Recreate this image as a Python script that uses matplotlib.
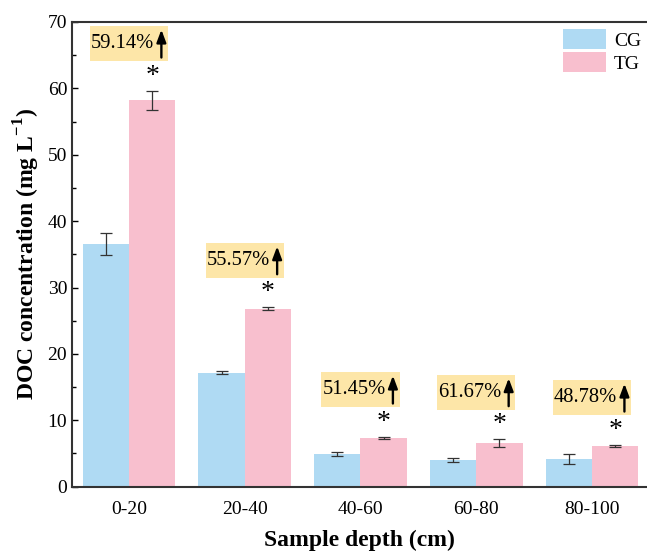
import numpy as np
import matplotlib
matplotlib.use('Agg')
import matplotlib.pyplot as plt
from matplotlib.ticker import MultipleLocator
from matplotlib.patches import Rectangle

plt.rcParams['font.family'] = ['Liberation Serif', 'DejaVu Serif']
plt.rcParams['mathtext.fontset'] = 'custom'
plt.rcParams['mathtext.rm'] = 'Liberation Serif'
plt.rcParams['mathtext.bf'] = 'Liberation Serif:bold'

" DATA "
depths = ['0-20', '20-40', '40-60', '60-80', '80-100']

cg_mean = np.array([36.6, 17.2, 4.87, 4.07, 4.17])
cg_err = np.array([1.65, 0.25, 0.3, 0.3, 0.75])

tg_mean = np.array([58.2, 26.8, 7.33, 6.58, 6.17])
tg_err = np.array([1.45, 0.2, 0.2, 0.55, 0.15])

increase = ['59.14%', '55.57%', '51.45%', '61.67%', '48.78%']

" PLOT "
fig = plt.figure(figsize=(6.47, 5.54), dpi=100)
ax = fig.add_axes([0.1113, 0.1215, 0.8887, 0.8388])

x = np.arange(len(depths))
w = 0.4
err_kw = dict(ecolor='#333333', elinewidth=0.9, capsize=4, capthick=0.9)
ax.bar(x - w/2, cg_mean, w, yerr=cg_err, color='#AFDAF3', label='CG', error_kw=err_kw)
ax.bar(x + w/2, tg_mean, w, yerr=tg_err, color='#F8BFCE', label='TG', error_kw=err_kw)

# significance stars and increase boxes above the TG bars
box_w, box_h = 0.675, 5.3
for i in range(len(depths)):
    top = tg_mean[i] + tg_err[i]
    yc = top + 7.1
    ax.text(x[i] + w/2, top + 2.2, '*', ha='center', va='center', fontsize=20)
    ax.add_patch(Rectangle((x[i] - box_w/2, yc - box_h/2), box_w, box_h,
                           facecolor='#FDE6A8', edgecolor='none', zorder=3))
    ax.text(x[i] - 0.055, yc, increase[i], ha='center', va='center', fontsize=14.8, zorder=4)
    ax.annotate('', xy=(x[i] + 0.28, yc + 2.1), xytext=(x[i] + 0.28, yc - 2.1),
                arrowprops=dict(arrowstyle='-|>,head_width=0.28,head_length=0.75',
                                lw=1.7, color='black', shrinkA=0, shrinkB=0), zorder=4)

ax.set_xlim(-0.492, 4.475)
ax.set_ylim(0, 70)
ax.set_xticks(x)
ax.set_xticklabels(depths)
ax.yaxis.set_major_locator(MultipleLocator(10))
ax.yaxis.set_minor_locator(MultipleLocator(5))
ax.tick_params(axis='y', which='major', direction='in', length=4, width=1, labelsize=14)
ax.tick_params(axis='y', which='minor', direction='in', length=3, width=1)
ax.tick_params(axis='x', length=0, labelsize=14, pad=10)

for s in ['left', 'bottom', 'top']:
    ax.spines[s].set_linewidth(1.5)
    ax.spines[s].set_color('#333333')
ax.spines['right'].set_visible(False)

ax.set_xlabel('Sample depth (cm)', fontsize=17, fontweight='bold', labelpad=9)
ax.set_ylabel(r'DOC concentration (mg L$^{\mathbf{-1}}$)', fontsize=17, fontweight='bold', labelpad=4)

ax.legend(loc='upper right', frameon=False, fontsize=14, handlelength=2.2, handleheight=1.2,
          borderaxespad=0.2, handletextpad=0.4, labelspacing=0.15, bbox_to_anchor=(1.01, 1.01))

fig.savefig('out.png', dpi=100)
